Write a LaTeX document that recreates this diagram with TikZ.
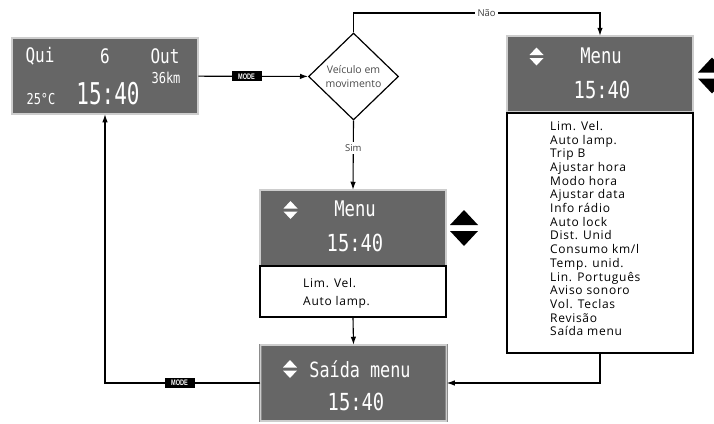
\documentclass[tikz,border=0pt]{standalone}
\usepackage{fontspec}
\usetikzlibrary{arrows.meta,positioning,shapes.geometric,calc}
\setmainfont{Open Sans}
\newfontfamily\lcdfont[FakeStretch=0.8]{DejaVu Sans Mono}
\newfontfamily\lcdnarrow[FakeStretch=0.7]{DejaVu Sans Mono}
\newfontfamily\listfont[LetterSpace=6]{Open Sans}
\newfontfamily\modefont[FakeStretch=0.7]{Liberation Sans}
\definecolor{lcdgray}{RGB}{102,102,102}
\definecolor{lcdrim}{RGB}{205,205,205}
\tikzset{
    lcd/.style={rectangle, fill=lcdgray, draw=black!45, double=lcdrim,
                double distance=1.2pt, line width=0.5pt,
                minimum width=186pt, minimum height=76pt, inner sep=0pt},
    lcdtxt/.style={text=white, inner sep=0pt,
                   font=\lcdfont\fontsize{#1}{#1}\selectfont},
    lcdbig/.style={text=white, inner sep=0pt,
                   font=\lcdnarrow\fontsize{#1}{#1}\selectfont},
    listbox/.style={rectangle, draw, line width=1.2pt, fill=white,
                    minimum width=186pt, inner sep=0pt},
    listtxt/.style={align=left, inner sep=0pt, anchor=north west,
                    font=\listfont\fontsize{12}{#1}\selectfont},
    dec/.style={diamond, draw, line width=1.2pt, minimum width=90pt,
                minimum height=87pt, inner sep=0pt, align=center,
                text=black!70, font=\fontsize{10.5}{14}\selectfont},
    modebox/.style={fill=black, text=white, inner sep=1pt,
                    minimum width=30pt, minimum height=10pt,
                    font=\modefont\bfseries\fontsize{8}{8}\selectfont},
    arr/.style={-{Latex[length=8pt,width=5.5pt]}, line width=1.1pt},
    lbl/.style={fill=white, inner sep=2.5pt, text=black!75,
                font=\fontsize{9.5}{9.5}\selectfont},
    pics/updown/.style={code={
        \fill (-7,-1.5) -- (7,-1.5) -- (0,-9) -- cycle;
        \fill (-7,1.5) -- (7,1.5) -- (0,9) -- cycle;}},
}

\begin{document}
\begin{tikzpicture}[x=1pt, y=-1pt]
    \useasboundingbox (0,0) rectangle (714,423);

    % instrument panel
    \node[lcd] (dash) at (105,76) {};
    \node[lcdtxt=20] (dashday)   at (40,56)  {Qui};
    \node[lcdtxt=20] (dashdate)  at (105,56) {6};
    \node[lcdtxt=20] (dashmon)   at (165,56) {Out};
    \node[lcdtxt=15] (dashkm)    at (166,78) {36km};
    \node[lcdtxt=15] (dashtemp)  at (41,99)  {25°C};
    \node[lcdbig=30] (dashclock) at (108,94) {15:40};

    % decision
    \node[dec] (dec) at (353.5,76.5) {Veículo em\\movimento};

    % full menu
    \node[lcd] (menuA) at (600,74) {};
    \pic[fill=white] at (536.5,56.5) {updown};
    \node[lcdtxt=21.5] (menuAtit) at (601,56) {Menu};
    \node[lcdtxt=23.5] (menuAclk) at (602,90) {15:40};
    \node[listbox, minimum height=240pt] (listA) at (600,233) {};
    \node[listtxt=13.7pt] (listAtxt) at (550,121)
        {Lim. Vel.\\Auto lamp.\\Trip B\\Ajustar hora\\Modo hora\\Ajustar data\\
         Info rádio\\Auto lock\\Dist. Unid\\Consumo km/l\\Temp. unid.\\
         Lin. Português\\Aviso sonoro\\Vol. Teclas\\Revisão\\Saída menu};
    \pic[scale=2] at (712,75.5) {updown};

    % short menu
    \node[lcd] (menuB) at (353,228) {};
    \pic[fill=white] at (290.5,210) {updown};
    \node[lcdtxt=21.5] (menuBtit) at (355,209) {Menu};
    \node[lcdtxt=23.5] (menuBclk) at (355,243) {15:40};
    \node[listbox, minimum height=51pt] (listB) at (353,291.5) {};
    \node[listtxt=18pt] (listBtxt) at (303,278) {Lim. Vel.\\Auto lamp.};
    \pic[scale=2] at (464,228) {updown};

    % exit
    \node[lcd] (exit) at (353.5,383) {};
    \pic[fill=white] at (290,369) {updown};
    \node[lcdtxt=21] (exittit) at (360,369) {Saída menu};
    \node[lcdtxt=23.5] (exitclk) at (356,402) {15:40};

    \draw[arr] (dash) -- node[modebox, pos=0.44] (modeA) {MODE} (dec);
    \draw[arr] (dec.north) -- (dec.north |- 0,13)
        -| node[lbl, pos=0.27] (nao) {Não} (menuA.north);
    \draw[arr] (dec.south) -- node[lbl, pos=0.39] (sim) {Sim} (menuB.north);
    \draw[arr] (listB.south) -- (exit.north);
    \draw[arr] (listA.south) |- (exit.east);
    \draw[arr] (exit.west) -| node[modebox, pos=0.26] (modeB) {MODE} (dash.south);
\end{tikzpicture}
\end{document}
